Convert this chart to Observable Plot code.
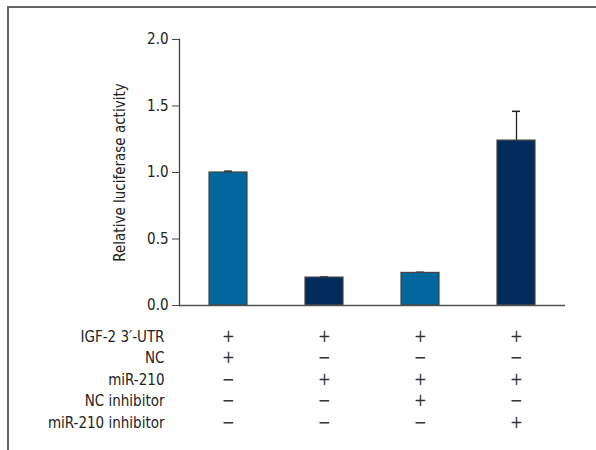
<!DOCTYPE html>
<html>
<head>
<meta charset="utf-8">
<script src="https://cdn.jsdelivr.net/npm/d3@7"></script>
<script src="https://cdn.jsdelivr.net/npm/@observablehq/plot@0.6"></script>
<style>
  body { margin: 0; background: #fff; }
  #wrap { position: relative; width: 596px; height: 450px; }
  #border { position: absolute; left: 7px; top: 6px; right: 0; bottom: -2px; border-top: 2px solid #666; border-left: 2px solid #666; }
  #chart { position: absolute; left: 0; top: 0; }
</style>
</head>
<body>
<div id="wrap"><div id="border"></div><div id="chart"></div></div>
<script>
const groups = ["G1", "G2", "G3", "G4"];
const values = [1.0, 0.21, 0.245, 1.24];
const errors = [0.01, 0.005, 0.005, 0.22];
const fills = ["#00679E", "#002B5C", "#00679E", "#002B5C"];
const rowLabels = ["IGF-2 3\u2032-UTR", "NC", "miR-210", "NC inhibitor", "miR-210 inhibitor"];
const rowSigns = [
  ["+", "+", "+", "+"],
  ["+", "\u2212", "\u2212", "\u2212"],
  ["\u2212", "+", "+", "+"],
  ["\u2212", "\u2212", "+", "\u2212"],
  ["\u2212", "\u2212", "\u2212", "+"]
];
const yTicks = [0, 0.5, 1.0, 1.5, 2.0];
const yLabel = "Relative luciferase activity";

const bars = groups.map((g, i) => ({g, v: values[i], e: errors[i], fill: fills[i]}));
const font = "'Liberation Sans Narrow', 'DejaVu Sans Condensed', 'Roboto Condensed', sans-serif";
const rowStep = 21.5;
const firstRowDy = 36;

const tableMarks = [];
rowLabels.forEach((lab, r) => {
  tableMarks.push(Plot.text([lab], {
    frameAnchor: "bottom-left", textAnchor: "end", dx: -15, dy: firstRowDy + r * rowStep,
    text: d => d, fontSize: 15, fill: "#222"
  }));
  tableMarks.push(Plot.text(groups.map((g, i) => ({g, s: rowSigns[r][i]})), {
    x: "g", frameAnchor: "bottom", dy: firstRowDy + r * rowStep,
    text: "s", fontSize: 17, fill: "#333"
  }));
});

const chart = Plot.plot({
  width: 596,
  height: 450,
  marginLeft: 179,
  marginRight: 31,
  marginTop: 39,
  marginBottom: 145,
  style: {fontFamily: font, background: "transparent", overflow: "visible"},
  x: {domain: groups, paddingInner: 0.6, paddingOuter: 0.3, axis: null},
  y: {domain: [0, 2], ticks: yTicks, axis: null},
  marks: [
    Plot.axisY({ticks: yTicks, tickFormat: d3.format(".1f"), tickSize: 7, tickPadding: 4, fontSize: 15, label: null, stroke: "#444", color: "#222"}),
    Plot.frame({anchor: "left", stroke: "#444", strokeWidth: 1.3}),
    Plot.ruleX(bars, {x: "g", y1: "v", y2: d => d.v + d.e, stroke: "#222", strokeWidth: 1.3}),
    Plot.tickY(bars, {x: "g", y: d => d.v + d.e, stroke: "#222", strokeWidth: 1.5, insetLeft: 15, insetRight: 15}),
    Plot.barY(bars, {x: "g", y: "v", fill: "fill", stroke: "#444", strokeWidth: 1.2}),
    Plot.ruleY([0], {stroke: "#555", strokeWidth: 1.5}),
    Plot.text([yLabel], {frameAnchor: "left", textAnchor: "middle", dx: -59, rotate: -90, text: d => d, fontSize: 15, fill: "#222"}),
    ...tableMarks
  ]
});
document.getElementById("chart").appendChild(chart);
</script>
</body>
</html>
